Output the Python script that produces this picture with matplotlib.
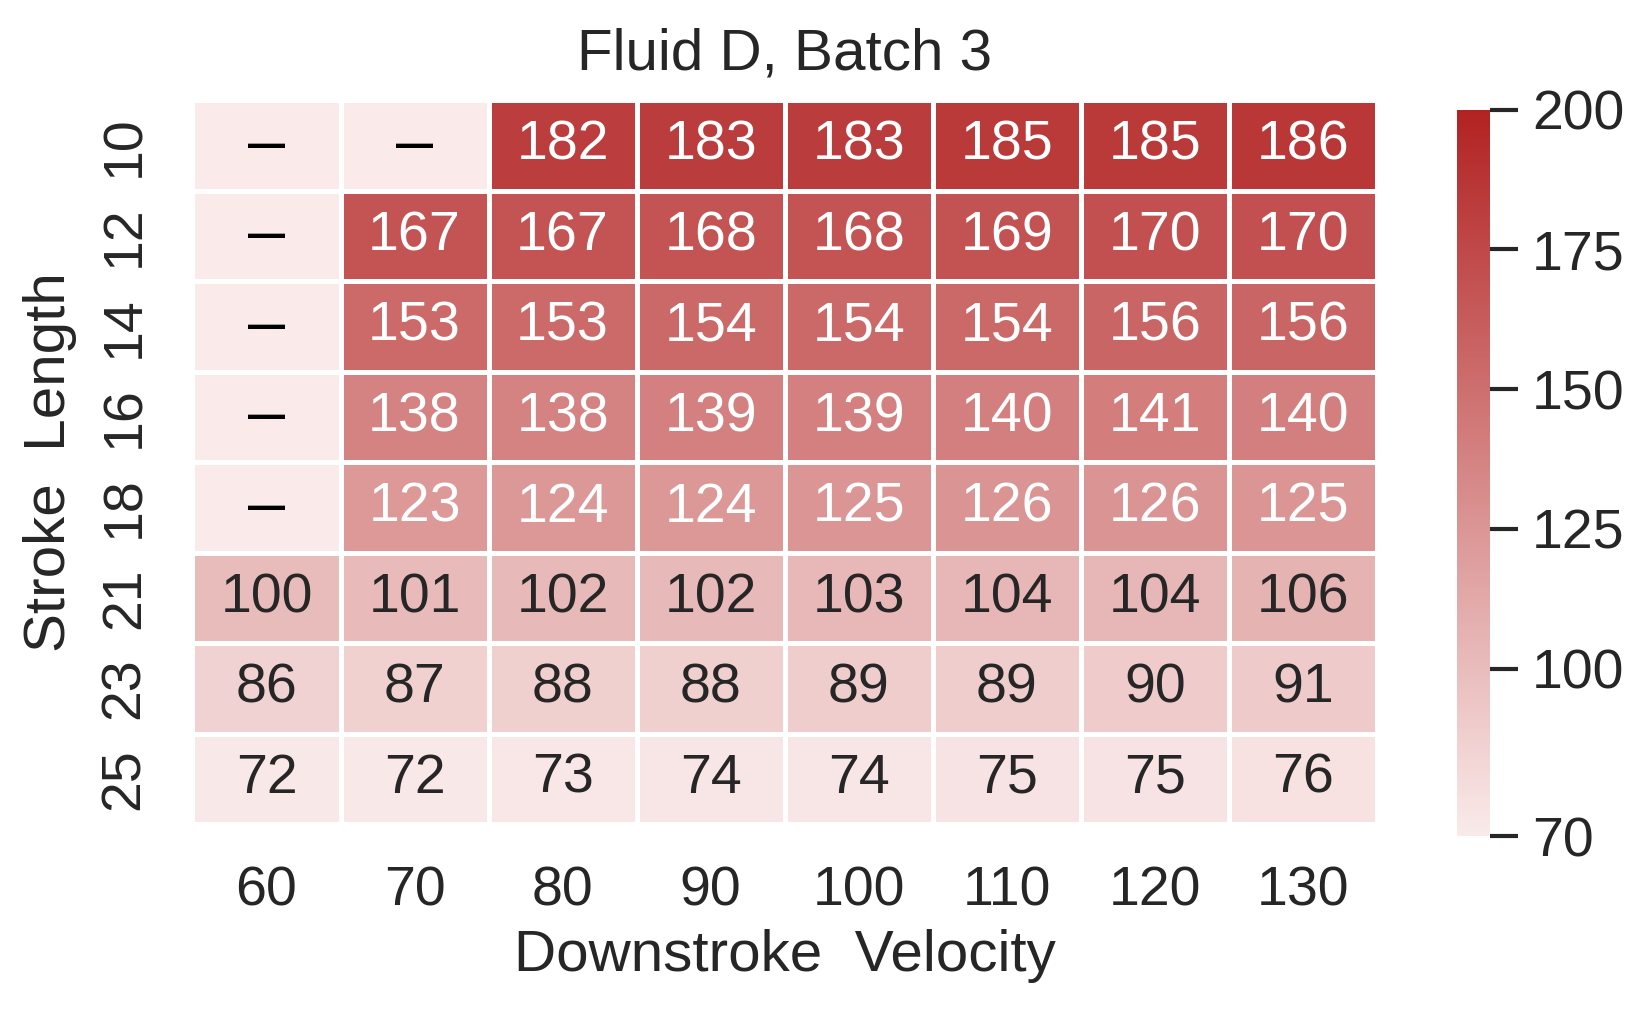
import numpy as np
import pandas as pd
import seaborn as sns
import matplotlib.pyplot as plt
from matplotlib.colors import LinearSegmentedColormap

velocity = [60, 70, 80, 90, 100, 110, 120, 130]
stroke = [10, 12, 14, 16, 18, 21, 23, 25]
nan = np.nan
row_10 = [nan, nan, 182, 183, 183, 185, 185, 186]
row_12 = [nan, 167, 167, 168, 168, 169, 170, 170]
row_14 = [nan, 153, 153, 154, 154, 154, 156, 156]
row_16 = [nan, 138, 138, 139, 139, 140, 141, 140]
row_18 = [nan, 123, 124, 124, 125, 126, 126, 125]
row_21 = [100, 101, 102, 102, 103, 104, 104, 106]
row_23 = [86, 87, 88, 88, 89, 89, 90, 91]
row_25 = [72, 72, 73, 74, 74, 75, 75, 76]

df = pd.DataFrame([row_10, row_12, row_14, row_16, row_18, row_21, row_23, row_25],
                  index=stroke, columns=velocity)

sns.set_theme(style="ticks")
plt.rcParams['font.family'] = ['Liberation Sans', 'DejaVu Sans']

vmin, vmax = 70, 200
# missing cells are drawn at the bottom colour and marked with a dash
filled = df.fillna(vmin)
labels = df.map(lambda v: "–" if np.isnan(v) else f"{int(v)}")

fig = plt.figure(figsize=(8.225, 5.075), dpi=200)
ax = fig.add_axes([0.117, 0.188, 0.72, 0.713])
cax = fig.add_axes([0.886, 0.176, 0.02, 0.716])

cmap = LinearSegmentedColormap.from_list("reds", ["#faeaea", "#b22222"])
sns.heatmap(filled, ax=ax, cbar_ax=cax, cmap=cmap, vmin=vmin, vmax=vmax,
            annot=labels, fmt="", linewidths=1.2, linecolor="white",
            annot_kws={"fontsize": 20})

for t, v in zip(ax.texts, df.values.ravel()):
    if np.isnan(v):
        t.set_color("black")
        t.set_fontsize(24)
    elif v > 110:
        t.set_color("white")
    else:
        t.set_color("#262626")

ax.set_title("Fluid D, Batch 3", fontsize=21, pad=11)
ax.set_xlabel("Downstroke  Velocity", fontsize=21, labelpad=4)
ax.set_ylabel("Stroke  Length", fontsize=21, labelpad=8)
ax.tick_params(axis="both", labelsize=20, length=0, pad=15)
ax.set_yticklabels(stroke, rotation=90, va="center")
ax.set_xticklabels(velocity, rotation=0)

cax.set_yticks([70, 100, 125, 150, 175, 200])
cax.tick_params(labelsize=20, length=10, width=1.5, pad=5)

fig.savefig("out.png", dpi=200)
